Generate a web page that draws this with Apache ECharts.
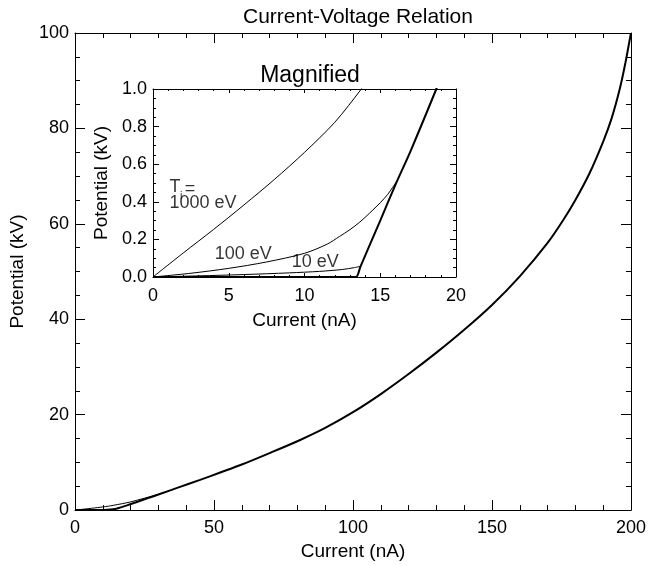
<!DOCTYPE html>
<html>
<head>
<meta charset="utf-8">
<script src="https://cdn.jsdelivr.net/npm/echarts@6/dist/echarts.min.js"></script>
<style>
  html, body { margin: 0; padding: 0; background: #fff; }
  #chart { width: 649px; height: 566px; }
</style>
</head>
<body>
<div id="chart"></div>
<script>
// tick labels
var mainXTicks = ['0', '50', '100', '150', '200'];
var mainYTicks = ['0', '20', '40', '60', '80', '100'];
var insetXTicks = ['0', '5', '10', '15', '20'];
var insetYTicks = ['0.0', '0.2', '0.4', '0.6', '0.8', '1.0'];

// current (nA), potential (kV)
var coldCurve = [[0, 0], [13, 0], [13.4, 0], [13.7, 0.057], [15, 0.3], [16, 0.49], [17, 0.67],
    [18.7, 1.0], [22, 1.66], [26, 2.46], [30, 3.26], [37, 4.7], [45, 6.33], [52, 7.83],
    [60, 9.55], [70, 11.95], [81, 14.7], [90, 17.22], [100, 20.52], [110, 24.32], [120, 28.52],
    [130, 33.0], [140, 37.8], [150, 43.0], [160, 49.0], [170, 56.0], [175.7, 60.85], [180, 65.0],
    [185, 70.5], [190, 77.25], [193, 82.05], [196, 88.35], [198, 93.75], [200, 100]];
var curve10eV = [[0, 0], [3, 0.006], [6, 0.013], [9, 0.022], [11, 0.03], [12.5, 0.04],
    [13.3, 0.05], [13.7, 0.057]];
var curve100eV = [[0, 0], [2.5, 0.02], [5, 0.046], [7.5, 0.08], [10, 0.126], [11.5, 0.175],
    [12.3, 0.215], [13, 0.252], [13.65, 0.292], [14.3, 0.34], [15, 0.395], [15.5, 0.44],
    [15.8, 0.475], [16.1, 0.51]];
var curve1000eV = [[0, 0], [2, 0.128], [4, 0.253], [6, 0.383], [8, 0.518], [10, 0.663],
    [12, 0.823], [13.75, 1.0], [17, 1.35], [20, 1.72], [25, 2.5], [30, 3.33], [34, 4.08]];

var FONT = 'Liberation Sans';

function tickFmt(ticks) {
    var lo = Number(ticks[0]), step = Number(ticks[1]) - Number(ticks[0]);
    return function (v) {
        var i = Math.round((v - lo) / step);
        return ticks[i] !== undefined ? ticks[i] : '';
    };
}

function makeAxis(ticks, grid, pos, opts) {
    var lo = Number(ticks[0]);
    var hi = Number(ticks[ticks.length - 1]);
    var showLabels = pos === 'bottom' || pos === 'left';
    return {
        type: 'value',
        gridIndex: grid,
        position: pos,
        min: lo,
        max: hi,
        interval: Number(ticks[1]) - lo,
        name: showLabels ? opts.name : '',
        nameLocation: 'middle',
        nameGap: opts.nameGap,
        nameTextStyle: { color: '#000', fontSize: 19, fontFamily: FONT },
        splitLine: { show: false },
        axisLine: { show: true, onZero: false, lineStyle: { color: '#000', width: 1 } },
        axisTick: { show: true, inside: true, length: opts.tickLen, lineStyle: { color: '#000' } },
        minorTick: { show: true, splitNumber: opts.minor, length: opts.tickLen / 2, lineStyle: { color: '#000' } },
        axisLabel: {
            show: showLabels, color: '#000', fontSize: 18, fontFamily: FONT,
            margin: opts.margin, formatter: tickFmt(ticks)
        }
    };
}

var chart = echarts.init(document.getElementById('chart'));

function lineSeries(data, width, xi, yi) {
    return {
        type: 'line',
        data: data,
        xAxisIndex: xi,
        yAxisIndex: yi,
        showSymbol: false,
        symbol: 'none',
        smooth: 0.3,
        clip: true,
        silent: true,
        lineStyle: { color: '#000', width: width },
        z: 3
    };
}

var curves = [[coldCurve, 2], [curve10eV, 1], [curve100eV, 1], [curve1000eV, 1]];
var series = [];
curves.forEach(function (c) {
    series.push(lineSeries(c[0], c[1], 0, 0));
    series.push(lineSeries(c[0], c[1], 2, 2));
});

function textMark(x, y, text, size) {
    return {
        value: [x, y],
        label: { formatter: text, fontSize: size }
    };
}

series.push({
    type: 'scatter',
    xAxisIndex: 2,
    yAxisIndex: 2,
    symbolSize: 0,
    silent: true,
    label: {
        show: true, position: 'right', distance: 0, color: '#000',
        fontSize: 18, fontFamily: FONT
    },
    data: [
        textMark(1.09, 0.479, 'T', 18),
        textMark(1.79, 0.43, 'i', 11),
        textMark(2.1, 0.468, '=', 18),
        textMark(1.09, 0.394, '1000 eV', 18),
        textMark(4.07, 0.122, '100 eV', 18),
        textMark(9.16, 0.08, '10 eV', 18)
    ]
});

var option = {
    animation: false,
    backgroundColor: '#fff',
    title: [
        { text: 'Current-Voltage Relation', left: 353, top: 2, textAlign: 'center',
          textStyle: { color: '#000', fontSize: 21, fontWeight: 'normal', fontFamily: FONT } },
        { text: 'Magnified', left: 305, top: 59, textAlign: 'center',
          textStyle: { color: '#000', fontSize: 23, fontWeight: 'normal', fontFamily: FONT } }
    ],
    grid: [
        { left: 74, top: 33, width: 559, height: 479, containLabel: false },
        { left: 153, top: 89, width: 303, height: 188, containLabel: false }
    ],
    xAxis: [
        makeAxis(mainXTicks, 0, 'bottom', { name: 'Current (nA)', nameGap: 29, tickLen: 10, minor: 5, margin: 9 }),
        makeAxis(mainXTicks, 0, 'top', { tickLen: 10, minor: 5 }),
        makeAxis(insetXTicks, 1, 'bottom', { name: 'Current (nA)', nameGap: 34, tickLen: 4, minor: 5, margin: 10 }),
        makeAxis(insetXTicks, 1, 'top', { tickLen: 4, minor: 5 })
    ],
    yAxis: [
        makeAxis(mainYTicks, 0, 'left', { name: 'Potential (kV)', nameGap: 48, tickLen: 10, minor: 4, margin: 6 }),
        makeAxis(mainYTicks, 0, 'right', { tickLen: 10, minor: 4 }),
        makeAxis(insetYTicks, 1, 'left', { name: 'Potential (kV)', nameGap: 42, tickLen: 6, minor: 4, margin: 6 }),
        makeAxis(insetYTicks, 1, 'right', { tickLen: 6, minor: 4 })
    ],
    series: series
};

chart.setOption(option);
</script>
</body>
</html>
